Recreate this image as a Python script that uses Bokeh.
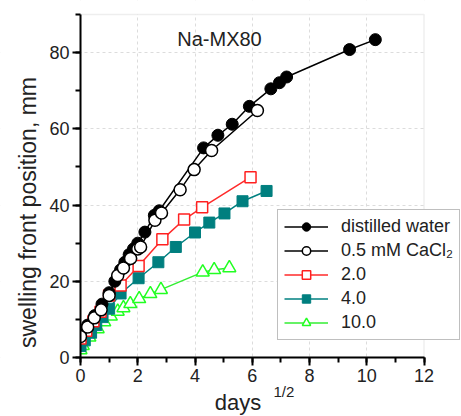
import math
from bokeh.plotting import figure
from bokeh.models import (Legend, LegendItem, Label, SingleIntervalTicker, Range1d, BoxAnnotation)
from bokeh.embed import file_html
from bokeh.resources import INLINE

# ---- data ----
dw_x = [0.0, 0.25, 0.5, 0.75, 1.0, 1.2, 1.4, 1.55, 1.7, 1.85, 2.0, 2.25, 2.58, 2.75,
        4.3, 4.8, 5.3, 5.9, 6.65, 6.95, 7.2, 9.4, 10.3]
dw_y = [6.0, 8.5, 11.0, 14.0, 17.0, 20.0, 23.0, 25.0, 27.0, 28.5, 30.0, 32.9, 37.3, 38.5,
        55.0, 58.3, 61.2, 65.9, 70.5, 72.1, 73.6, 80.8, 83.4]

ca05_x = [0.0, 0.25, 0.48, 0.72, 1.0, 1.3, 1.5, 1.75, 2.0, 2.1, 2.6, 2.83, 3.48, 3.97, 4.58, 6.18]
ca05_y = [5.5, 8.0, 10.4, 12.5, 16.3, 21.5, 23.5, 26.0, 28.5, 29.0, 36.0, 37.9, 44.0, 49.3, 54.3, 64.8]

ca2_x = [0.0, 0.2, 0.45, 0.7, 1.0, 1.4, 2.03, 2.86, 3.62, 4.25, 5.94]
ca2_y = [5.0, 7.0, 9.5, 12.0, 16.3, 18.9, 24.0, 31.0, 36.2, 39.4, 47.3]

ca4_x = [0.0, 0.15, 0.37, 0.55, 0.77, 1.0, 1.4, 2.03, 2.72, 3.33, 4.0, 4.5, 5.03, 5.66, 6.5]
ca4_y = [3.0, 4.5, 6.5, 8.5, 10.6, 12.8, 16.8, 20.8, 25.0, 29.0, 32.8, 35.4, 37.8, 41.0, 43.7]

ca10_x = [0.0, 0.08, 0.31, 0.6, 0.83, 1.06, 1.3, 1.5, 1.74, 2.05, 2.44, 2.81, 4.27, 4.67, 5.2]
ca10_y = [2.0, 3.1, 5.3, 7.5, 9.3, 10.8, 12.1, 13.0, 14.1, 15.4, 16.7, 17.8, 22.4, 23.0, 23.5]

legend_labels = ["distilled water", "0.5 mM CaCl\u2082", "2.0", "4.0", "10.0"]
title_text = "Na-MX80"
x_label = "days"
x_label_sup = "1/2"
y_label = "swelling front position, mm"
x_min, x_max = 0, 12
y_min, y_max = 0, 90

FONT = "Liberation Sans"
TXT = "#222222"

# plot area in page pixels: x 0..12 -> 80..423.5, y 0..90 -> 357..14
W, H = 461, 416
L, R, T, B = 80, 423.5, 14, 357
sx = (R - L) / (x_max - x_min)
sy = (B - T) / (y_max - y_min)
xr = Range1d(x_min - L / sx, x_max + (W - R) / sx)
yr = Range1d(y_min - (H - B) / sy, y_max + T / sy)

p = figure(width=W, height=H, output_backend="svg", toolbar_location=None,
           x_range=xr, y_range=yr,
           min_border_left=0, min_border_right=0, min_border_top=0, min_border_bottom=0)
p.outline_line_color = None
p.background_fill_color = "white"
p.border_fill_color = "white"

p.xaxis.ticker = SingleIntervalTicker(interval=2, num_minor_ticks=2)
p.yaxis.ticker = SingleIntervalTicker(interval=20, num_minor_ticks=2)
p.xaxis.bounds = (x_min, x_max)
p.yaxis.bounds = (y_min, y_max)
p.xaxis.fixed_location = y_min
p.yaxis.fixed_location = x_min
for ax in (p.xaxis, p.yaxis):
    ax.axis_line_width = 2
    ax.axis_line_color = "black"
    ax.major_tick_line_width = 2
    ax.minor_tick_line_width = 2
    ax.major_tick_line_color = "black"
    ax.minor_tick_line_color = "black"
    ax.major_tick_out = 8
    ax.major_tick_in = 0
    ax.minor_tick_out = 5
    ax.minor_tick_in = 0
    ax.major_label_text_font = FONT
    ax.major_label_text_font_size = "18px"
    ax.major_label_text_color = TXT
    ax.major_label_standoff = 3

p.grid.grid_line_color = "#dcdcdc"
p.grid.grid_line_dash = "3 3"
p.grid.grid_line_width = 1

# white margins outside the plot box (cover grid lines), then the light frame
for kw in (dict(right=x_min), dict(left=x_max), dict(top=y_min), dict(bottom=y_max)):
    p.add_layout(BoxAnnotation(fill_color="white", fill_alpha=1.0, line_color=None,
                               level="underlay", **kw))
p.add_layout(BoxAnnotation(left=x_min, right=x_max, bottom=y_min, top=y_max,
                           fill_alpha=0, line_color="#c8c8c8", line_width=1.5,
                           level="underlay"))

# series
g_l = p.line(ca10_x, ca10_y, line_color="#33ee33", line_width=1.5)
g_m = p.scatter(ca10_x, ca10_y, marker="triangle", size=13, fill_color="white",
                line_color="#22ff22", line_width=1.5)
t_l = p.line(ca4_x, ca4_y, line_color="#008080", line_width=1.5)
t_m = p.scatter(ca4_x, ca4_y, marker="square", size=11, fill_color="#007f7f",
                line_color="#007f7f", line_width=1)
r_l = p.line(ca2_x, ca2_y, line_color="#ff2a2a", line_width=1.5)
r_m = p.scatter(ca2_x, ca2_y, marker="square", size=11, fill_color="white",
                line_color="#ff2020", line_width=1.5)
k_l = p.line(dw_x, dw_y, line_color="black", line_width=1.5)
k_m = p.scatter(dw_x, dw_y, marker="circle", size=12, fill_color="black",
                line_color="black", line_width=1)
o_l = p.line(ca05_x, ca05_y, line_color="black", line_width=1.5)
o_m = p.scatter(ca05_x, ca05_y, marker="circle", size=12, fill_color="white",
                line_color="black", line_width=1.5)

# markers are clipped at the axes, as in the reference
p.quad(left=xr.start, right=x_min, bottom=yr.start, top=yr.end,
       fill_color="white", line_color=None)
p.quad(left=xr.start, right=xr.end, bottom=yr.start, top=y_min,
       fill_color="white", line_color=None)

items = [
    LegendItem(label=legend_labels[0], renderers=[k_l, k_m]),
    LegendItem(label=legend_labels[1], renderers=[o_l, o_m]),
    LegendItem(label=legend_labels[2], renderers=[r_l, r_m]),
    LegendItem(label=legend_labels[3], renderers=[t_l, t_m]),
    LegendItem(label=legend_labels[4], renderers=[g_l, g_m]),
]
legend = Legend(items=items, location=(277, H - 340))
legend.label_text_font = FONT
legend.label_text_font_size = "18px"
legend.label_text_color = TXT
legend.glyph_width = 44
legend.glyph_height = 21
legend.label_height = 21
legend.spacing = 3
legend.padding = 6
legend.margin = 0
legend.label_standoff = 13
legend.border_line_color = "#808080"
legend.border_line_width = 1.5
legend.background_fill_color = "white"
legend.background_fill_alpha = 1.0
p.add_layout(legend, "center")

# texts (screen px from the lower-left corner of the page)
p.add_layout(Label(x=219, y=H - 38, x_units="screen", y_units="screen", text=title_text,
                   text_font=FONT, text_font_size="20px", text_color=TXT,
                   text_align="center", text_baseline="alphabetic"))
p.add_layout(Label(x=237.5, y=H - 402, x_units="screen", y_units="screen", text=x_label,
                   text_font=FONT, text_font_size="22px", text_color=TXT,
                   text_align="center", text_baseline="alphabetic"))
p.add_layout(Label(x=273, y=H - 391, x_units="screen", y_units="screen", text=x_label_sup,
                   text_font=FONT, text_font_size="15px", text_color=TXT,
                   text_align="left", text_baseline="alphabetic"))
p.add_layout(Label(x=27, y=H - 212, x_units="screen", y_units="screen", text=y_label,
                   angle=math.pi / 2, text_font=FONT, text_font_size="23px", text_color=TXT,
                   text_align="center", text_baseline="alphabetic"))

open("out.html", "w").write(file_html(p, INLINE))
